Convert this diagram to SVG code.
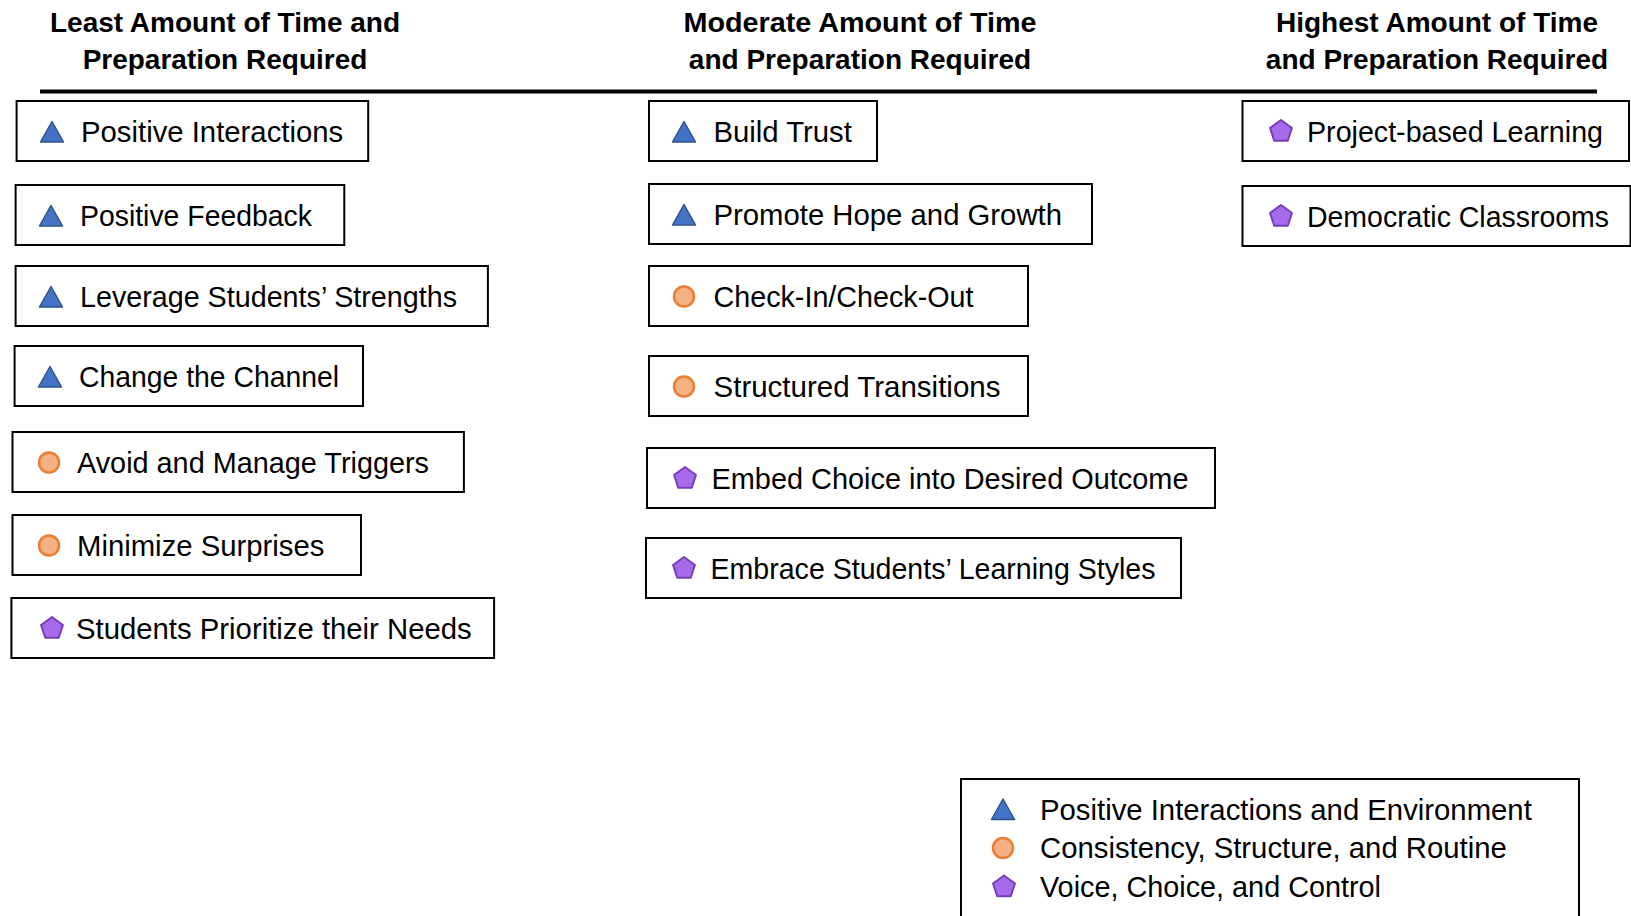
<svg xmlns="http://www.w3.org/2000/svg" xmlns:xlink="http://www.w3.org/1999/xlink" width="1631" height="916" viewBox="0 0 1631 916">
  <style>
    .head { font-family: "Liberation Sans", Arial, sans-serif; font-weight: bold; font-size: 28px; fill: #000; text-anchor: middle; }
    .label { font-family: "Liberation Sans", Arial, sans-serif; font-size: 29.3px; fill: #000; }
    .box { fill: #fff; stroke: #000; stroke-width: 2; }
    .rule { stroke: #000; stroke-width: 4; }
  </style>
  <defs>
    <!-- category markers, centred on 0,0 -->
    <polygon id="tri" points="-11.5,10.5 0,-10 11.5,10.5" fill="#4472C4" stroke="#2F528F" stroke-width="1.5" stroke-linejoin="round"/>
    <circle id="dot" r="10" fill="#F4B183" stroke="#ED7D31" stroke-width="2.5"/>
    <polygon id="pent" points="0,-11.5 10.94,-3.55 6.76,9.3 -6.76,9.3 -10.94,-3.55" fill="#A66BEA" stroke="#7A3DB8" stroke-width="2" stroke-linejoin="round"/>
  </defs>

  <rect width="1631" height="916" fill="#fff"/>

  <!-- column headings -->
  <g id="headings">
    <text class="head" x="225" y="32">Least Amount of Time and</text>
    <text class="head" x="225" y="69">Preparation Required</text>
    <text class="head" x="860" y="32" textLength="353" lengthAdjust="spacingAndGlyphs">Moderate Amount of Time</text>
    <text class="head" x="860" y="69">and Preparation Required</text>
    <text class="head" x="1437" y="32">Highest Amount of Time</text>
    <text class="head" x="1437" y="69">and Preparation Required</text>
  </g>

  <g id="connectors">
    <line class="rule" x1="40" y1="91.5" x2="1597" y2="91.5"/>
  </g>

  <!-- least time column -->
  <g id="positive-interactions">
    <rect class="box" x="16.6" y="101" width="351.6" height="60"/>
    <use xlink:href="#tri" x="52" y="131.5"/>
    <text class="label" x="81" y="142">Positive Interactions</text>
  </g>
  <g id="positive-feedback">
    <rect class="box" x="15.6" y="185" width="328.7" height="60"/>
    <use xlink:href="#tri" x="51" y="215.5"/>
    <text class="label" x="80" y="226" textLength="232" lengthAdjust="spacingAndGlyphs">Positive Feedback</text>
  </g>
  <g id="leverage-strengths">
    <rect class="box" x="15.6" y="266" width="472.3" height="60"/>
    <use xlink:href="#tri" x="51" y="296.5"/>
    <text class="label" x="80" y="307" textLength="377" lengthAdjust="spacingAndGlyphs">Leverage Students’ Strengths</text>
  </g>
  <g id="change-channel">
    <rect class="box" x="14.6" y="346" width="348.4" height="60"/>
    <use xlink:href="#tri" x="50" y="376.5"/>
    <text class="label" x="79" y="387" textLength="260" lengthAdjust="spacingAndGlyphs">Change the Channel</text>
  </g>
  <g id="avoid-triggers">
    <rect class="box" x="12.5" y="432" width="451.4" height="60"/>
    <use xlink:href="#dot" x="49" y="462.5"/>
    <text class="label" x="77" y="473" textLength="352" lengthAdjust="spacingAndGlyphs">Avoid and Manage Triggers</text>
  </g>
  <g id="minimize-surprises">
    <rect class="box" x="12.5" y="515" width="348.5" height="60"/>
    <use xlink:href="#dot" x="49" y="545.5"/>
    <text class="label" x="77" y="556">Minimize Surprises</text>
  </g>
  <g id="prioritize-needs">
    <rect class="box" x="11.4" y="598" width="482.7" height="60"/>
    <use xlink:href="#pent" x="52" y="628.5"/>
    <text class="label" x="76" y="639">Students Prioritize their Needs</text>
  </g>

  <!-- moderate time column -->
  <g id="build-trust">
    <rect class="box" x="649" y="101" width="228" height="60"/>
    <use xlink:href="#tri" x="684" y="131.5"/>
    <text class="label" x="713.5" y="142">Build Trust</text>
  </g>
  <g id="promote-hope">
    <rect class="box" x="649" y="184" width="443" height="60"/>
    <use xlink:href="#tri" x="684" y="214.5"/>
    <text class="label" x="713.5" y="225">Promote Hope and Growth</text>
  </g>
  <g id="check-in-out">
    <rect class="box" x="649" y="266" width="379" height="60"/>
    <use xlink:href="#dot" x="684" y="296.5"/>
    <text class="label" x="713.5" y="307" textLength="260" lengthAdjust="spacingAndGlyphs">Check-In/Check-Out</text>
  </g>
  <g id="structured-transitions">
    <rect class="box" x="649" y="356" width="379" height="60"/>
    <use xlink:href="#dot" x="684" y="386.5"/>
    <text class="label" x="713.5" y="397" textLength="287" lengthAdjust="spacingAndGlyphs">Structured Transitions</text>
  </g>
  <g id="embed-choice">
    <rect class="box" x="647" y="448" width="568" height="60"/>
    <use xlink:href="#pent" x="685" y="478.5"/>
    <text class="label" x="711.5" y="489" textLength="477" lengthAdjust="spacingAndGlyphs">Embed Choice into Desired Outcome</text>
  </g>
  <g id="learning-styles">
    <rect class="box" x="646" y="538" width="535" height="60"/>
    <use xlink:href="#pent" x="684" y="568.5"/>
    <text class="label" x="710.5" y="579" textLength="445" lengthAdjust="spacingAndGlyphs">Embrace Students’ Learning Styles</text>
  </g>

  <!-- highest time column -->
  <g id="project-based">
    <rect class="box" x="1242.5" y="101" width="386.5" height="60"/>
    <use xlink:href="#pent" x="1281" y="131.5"/>
    <text class="label" x="1307" y="142" textLength="296" lengthAdjust="spacingAndGlyphs">Project-based Learning</text>
  </g>
  <g id="democratic-classrooms">
    <rect class="box" x="1242.5" y="186" width="388" height="60"/>
    <use xlink:href="#pent" x="1281" y="216.5"/>
    <text class="label" x="1307" y="227" textLength="302" lengthAdjust="spacingAndGlyphs">Democratic Classrooms</text>
  </g>

  <!-- key -->
  <g id="legend">
    <rect class="box" x="961" y="779" width="618" height="160"/>
    <use xlink:href="#tri" x="1003" y="809"/>
    <text class="label" x="1040" y="820">Positive Interactions and Environment</text>
    <use xlink:href="#dot" x="1003" y="848"/>
    <text class="label" x="1040" y="858">Consistency, Structure, and Routine</text>
    <use xlink:href="#pent" x="1004" y="887"/>
    <text class="label" x="1040" y="897" textLength="341" lengthAdjust="spacingAndGlyphs">Voice, Choice, and Control</text>
  </g>
</svg>
